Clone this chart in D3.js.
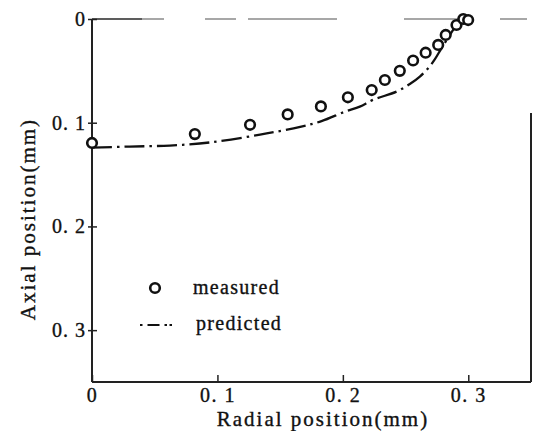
<!DOCTYPE html>
<html>
<head>
<meta charset="utf-8">
<script src="https://cdn.jsdelivr.net/npm/d3@7"></script>
<style>
  body { margin: 0; background: #fff; }
  text { font-family: "Liberation Serif", "DejaVu Serif", serif; fill: #111; stroke: #111; stroke-width: 0.35; }
</style>
</head>
<body>
<svg id="chart" width="537" height="431"></svg>
<script>
// measured points (radial mm, axial mm)
const measuredX = [0, 0.082, 0.126, 0.156, 0.1825, 0.204, 0.223, 0.2335, 0.2454, 0.256, 0.266, 0.276, 0.282, 0.2906, 0.296, 0.2999];
const measuredY = [0.1195, 0.111, 0.102, 0.092, 0.0843, 0.0755, 0.0685, 0.0588, 0.050, 0.040, 0.0325, 0.025, 0.0154, 0.0058, 0.0, 0.001];

// predicted curve
const predictedX = [0, 0.03, 0.062, 0.094, 0.134, 0.166, 0.183, 0.2016, 0.2135, 0.224, 0.2428, 0.2534, 0.2614, 0.268, 0.273, 0.2786, 0.2853, 0.2906, 0.296];
const predictedY = [0.124, 0.123, 0.122, 0.119, 0.1115, 0.104, 0.0985, 0.0894, 0.0845, 0.078, 0.070, 0.0627, 0.0555, 0.0475, 0.0395, 0.0283, 0.0154, 0.006, 0];

const xTicks = [0, 0.1, 0.2, 0.3];
const yTicks = [0, 0.1, 0.2, 0.3];
const tickLabel = d => d === 0 ? '0' : d3.format('.1f')(d).replace('.', '. ');

const svg = d3.select('#chart');
const margin = {top: 19, right: 6, bottom: 49, left: 92};
const width = 537 - margin.left - margin.right;
const height = 431 - margin.top - margin.bottom;

const x = d3.scaleLinear().domain([0, 0.35]).range([0, width]);
const y = d3.scaleLinear().domain([0, 0.35]).range([0, height]);

const g = svg.append('g')
    .attr('transform', `translate(${margin.left}, ${margin.top})`);

// frame: faded dashed top, partial right side
g.append('line')
    .attr('x1', 0).attr('x2', x(0.35))
    .attr('y1', y(0)).attr('y2', y(0))
    .attr('stroke', '#8a8a8a')
    .attr('stroke-width', 1.6)
    .attr('stroke-dasharray', '72,41,31,12,89,67,55,41,27');
g.append('line')
    .attr('x1', 0).attr('x2', 50)
    .attr('y1', y(0)).attr('y2', y(0))
    .attr('stroke', '#444')
    .attr('stroke-width', 1.6);
g.append('line')
    .attr('x1', x(0.35)).attr('x2', x(0.35))
    .attr('y1', 94).attr('y2', height)
    .attr('stroke', '#222')
    .attr('stroke-width', 2);

// bottom axis
const xAxis = g.append('g')
    .attr('transform', `translate(0, ${height})`)
    .call(d3.axisBottom(x).tickValues(xTicks).tickSize(-7).tickPadding(6).tickFormat(tickLabel));
xAxis.select('.domain').attr('stroke', '#222').attr('stroke-width', 2).attr('d', `M0,0H${x(0.35)}`);
xAxis.selectAll('.tick line').attr('stroke', '#222').attr('stroke-width', 1.5);
xAxis.selectAll('.tick text')
    .attr('font-size', 20)
    .attr('letter-spacing', 1.5)
    .attr('font-family', '"Liberation Serif", serif')
    .attr('fill', '#111');

// left axis
const yAxis = g.append('g')
    .call(d3.axisLeft(y).tickValues(yTicks).tickSize(0).tickPadding(6).tickFormat(tickLabel));
yAxis.select('.domain').attr('stroke', '#222').attr('stroke-width', 2).attr('d', `M0,0V${height}`);
yAxis.selectAll('.tick line')
    .attr('x1', -4).attr('x2', 5)
    .attr('stroke', '#222').attr('stroke-width', 1.5);
yAxis.selectAll('.tick text')
    .attr('font-size', 20)
    .attr('letter-spacing', 1)
    .attr('font-family', '"Liberation Serif", serif')
    .attr('fill', '#111');

// predicted curve
const predicted = predictedX.map((d, i) => [d, predictedY[i]]);
g.append('path')
    .datum(predicted)
    .attr('fill', 'none')
    .attr('stroke', '#111')
    .attr('stroke-width', 2.3)
    .attr('stroke-dasharray', '20,5,2.5,5')
    .attr('d', d3.line().x(d => x(d[0])).y(d => y(d[1])).curve(d3.curveCatmullRom));

// measured points
const measured = measuredX.map((d, i) => [d, measuredY[i]]);
g.selectAll('.measured')
    .data(measured)
    .enter()
    .append('circle')
        .attr('class', 'measured')
        .attr('cx', d => x(d[0]))
        .attr('cy', d => y(d[1]))
        .attr('r', 4.8)
        .attr('fill', '#fff')
        .attr('stroke', '#111')
        .attr('stroke-width', 2.6);

// legend
const legend = g.append('g');
legend.append('circle')
    .attr('cx', 63).attr('cy', 269).attr('r', 4.8)
    .attr('fill', '#fff').attr('stroke', '#111').attr('stroke-width', 2.6);
legend.append('text')
    .attr('x', 101).attr('y', 275)
    .attr('font-size', 20)
    .attr('letter-spacing', 1.3)
    .text('measured');
legend.append('line')
    .attr('x1', 48).attr('x2', 80)
    .attr('y1', 306).attr('y2', 306)
    .attr('stroke', '#111').attr('stroke-width', 2)
    .attr('stroke-dasharray', '2.5,5,12,5,2.5');
legend.append('text')
    .attr('x', 104).attr('y', 311)
    .attr('font-size', 20)
    .attr('letter-spacing', 1.3)
    .text('predicted');

// axis titles
svg.append('text')
    .attr('x', 323).attr('y', 426)
    .attr('text-anchor', 'middle')
    .attr('font-size', 21)
    .attr('letter-spacing', 2)
    .text('Radial position(mm)');
svg.append('text')
    .attr('transform', 'translate(35, 219) rotate(-90)')
    .attr('text-anchor', 'middle')
    .attr('font-size', 21)
    .attr('letter-spacing', 2)
    .text('Axial position(mm)');
</script>
</body>
</html>
